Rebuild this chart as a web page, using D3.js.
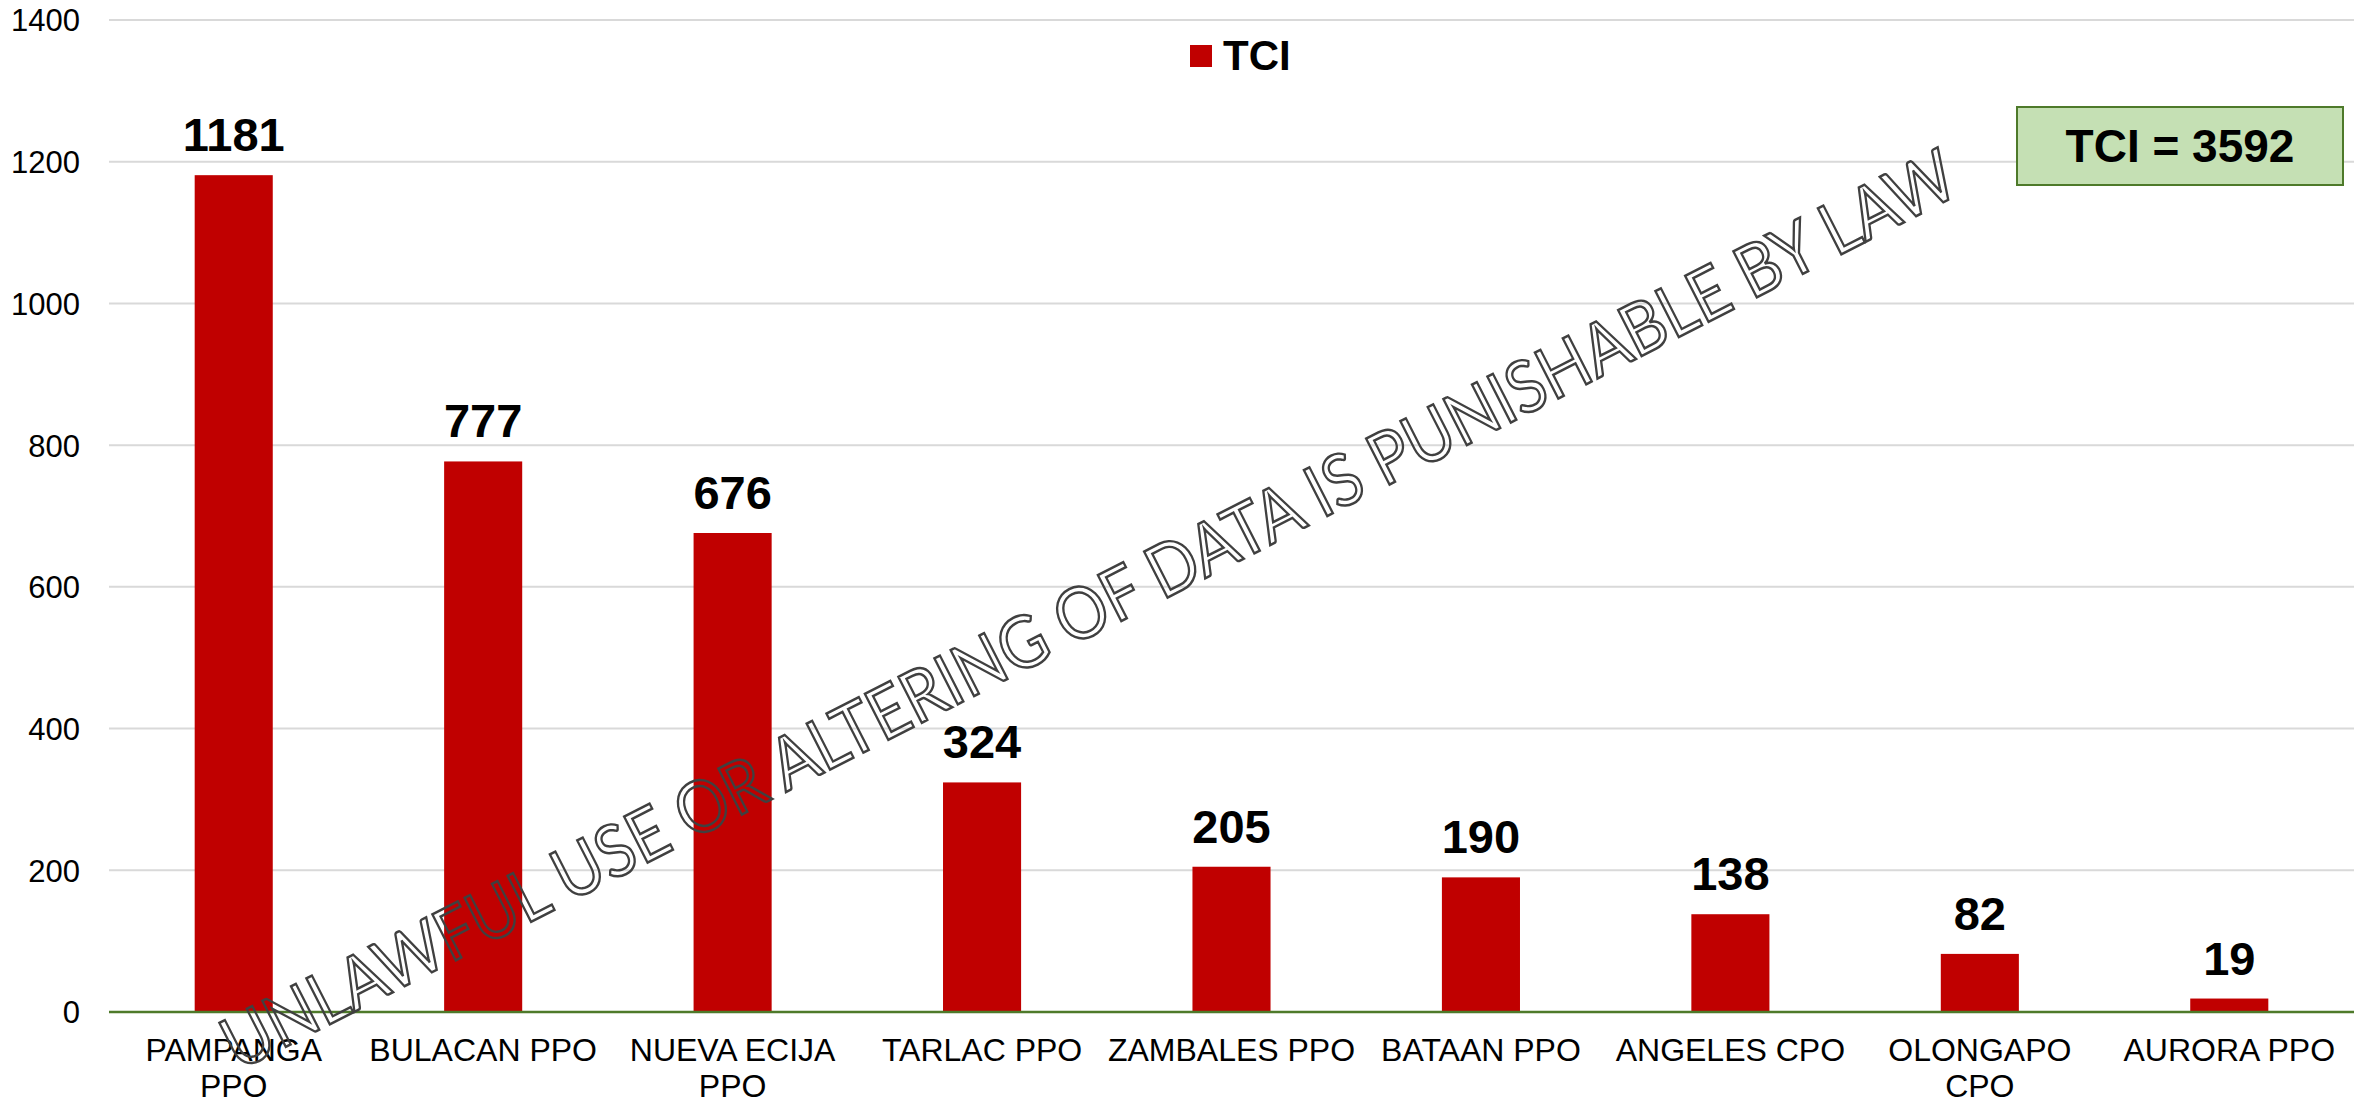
<!DOCTYPE html>
<html>
<head>
<meta charset="utf-8">
<script src="https://cdn.jsdelivr.net/npm/d3@7"></script>
<style>
  html, body { margin: 0; padding: 0; background: #ffffff; }
  svg { display: block; }
</style>
</head>
<body>
<script>
// ---- data ----
const categories = ["PAMPANGA\nPPO", "BULACAN PPO", "NUEVA ECIJA\nPPO", "TARLAC PPO", "ZAMBALES PPO", "BATAAN PPO", "ANGELES CPO", "OLONGAPO\nCPO", "AURORA PPO"];
const tciValues = [1181, 777, 676, 324, 205, 190, 138, 82, 19];
const yTicks = [0, 200, 400, 600, 800, 1000, 1200, 1400];
const seriesName = "TCI";
const totalLabel = "TCI = 3592";
const watermark = "UNLAWFUL USE OR ALTERING OF DATA IS PUNISHABLE BY LAW";

// ---- layout ----
const W = 2361, H = 1103;
const font = "'Liberation Sans', Arial, Helvetica, sans-serif";
const svg = d3.select("body").append("svg").attr("width", W).attr("height", H);

const x = d3.scaleBand().domain(categories).range([109, 2354]).padding(0);
const y = d3.scaleLinear().domain([0, 1400]).range([1012, 20]);
const barW = x.bandwidth() * 0.313;

// gridlines
svg.append("g").selectAll("line").data(yTicks.filter(d => d > 0)).join("line")
  .attr("x1", 109).attr("x2", 2354)
  .attr("y1", d => y(d)).attr("y2", d => y(d))
  .attr("stroke", "#d9d9d9").attr("stroke-width", 2);

// y axis labels
const yAxis = d3.axisLeft(y).tickValues(yTicks).tickFormat(d3.format("d")).tickSize(0).tickPadding(0);
const yg = svg.append("g").attr("transform", "translate(80,0)").call(yAxis);
yg.select(".domain").remove();
yg.selectAll("text").attr("font-family", font).attr("font-size", 31).attr("fill", "#000").attr("dy", "0.35em");

// bars
svg.append("g").selectAll("rect").data(tciValues).join("rect")
  .attr("x", (d, i) => x(categories[i]) + x.bandwidth() / 2 - barW / 2)
  .attr("width", barW)
  .attr("y", d => y(d))
  .attr("height", d => y(0) - y(d))
  .attr("fill", "#c00000");

// baseline axis
svg.append("line").attr("x1", 109).attr("x2", 2354).attr("y1", y(0)).attr("y2", y(0))
  .attr("stroke", "#4e7a2a").attr("stroke-width", 2.5);

// data labels
svg.append("g").selectAll("text").data(tciValues).join("text")
  .attr("x", (d, i) => x(categories[i]) + x.bandwidth() / 2)
  .attr("y", d => y(d) - 24)
  .attr("text-anchor", "middle")
  .attr("font-family", font).attr("font-weight", "bold").attr("font-size", 47)
  .attr("fill", "#000")
  .text(d => d);

// category labels
const xg = svg.append("g");
categories.forEach(c => {
  const t = xg.append("text")
    .attr("x", x(c) + x.bandwidth() / 2)
    .attr("y", 1061)
    .attr("text-anchor", "middle")
    .attr("font-family", font).attr("font-size", 32).attr("fill", "#000");
  c.split("\n").forEach((line, j) => {
    t.append("tspan").attr("x", x(c) + x.bandwidth() / 2).attr("dy", j === 0 ? 0 : 36).text(line);
  });
});

// legend
svg.append("rect").attr("x", 1190).attr("y", 45).attr("width", 22).attr("height", 22).attr("fill", "#c00000");
svg.append("text").attr("x", 1223).attr("y", 70)
  .attr("font-family", font).attr("font-weight", "bold").attr("font-size", 42).attr("fill", "#000")
  .text(seriesName);

// total box
svg.append("rect").attr("x", 2017).attr("y", 107).attr("width", 326).attr("height", 78)
  .attr("fill", "#c5e0b4").attr("stroke", "#4e7a2a").attr("stroke-width", 2);
svg.append("text").attr("x", 2180).attr("y", 162).attr("text-anchor", "middle")
  .attr("font-family", font).attr("font-weight", "bold").attr("font-size", 46).attr("fill", "#000")
  .text(totalLabel);

// watermark
svg.append("text")
  .attr("transform", "translate(1100,632) rotate(-27)")
  .attr("text-anchor", "middle")
  .attr("font-family", "Lato, 'Open Sans', sans-serif").attr("font-size", 72)
  .attr("textLength", 1935).attr("lengthAdjust", "spacingAndGlyphs")
  .attr("fill", "none").attr("stroke", "#404040").attr("stroke-width", 2.5)
  .text(watermark);
</script>
</body>
</html>
